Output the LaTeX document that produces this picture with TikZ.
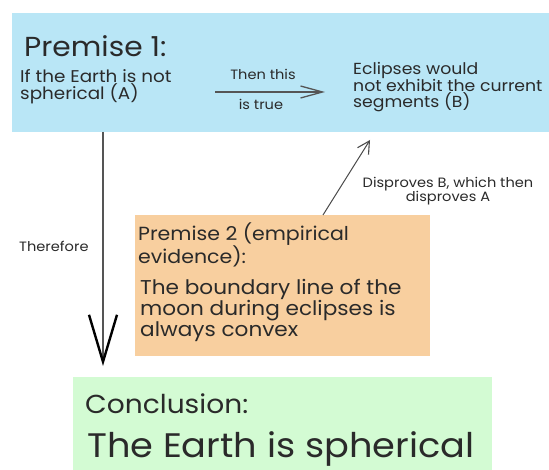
\documentclass[tikz,border=0pt]{standalone}
\usepackage{fontspec}
\setmainfont[FakeStretch=1.08]{Poppins}
\usetikzlibrary{arrows.meta}
\definecolor{boxblue}{HTML}{B9E6F6}
\definecolor{boxorange}{HTML}{F8CF9F}
\definecolor{boxgreen}{HTML}{D3FBD3}
\definecolor{ink}{HTML}{2A2A2A}
\begin{document}
\begin{tikzpicture}[x=1pt,y=-1pt,
  txt/.style={inner sep=0pt,anchor=base west,text=ink,align=left},
  ctxt/.style={inner sep=0pt,anchor=base,text=ink,align=center},
  fs/.style n args={2}{font=\fontsize{#1}{#2}\selectfont}]
\useasboundingbox (0,0) rectangle (549,470);
% boxes
\fill[boxblue] (12,13) rectangle (549,132);
\fill[boxorange] (135,215) rectangle (430,356);
\fill[boxgreen] (73,377) rectangle (492,470);
% texts (multi-line nodes anchored at the baseline of their last line)
\node[txt,fs={27.5}{30}] (prem1) at (24,57) {Premise 1:};
\node[txt,fs={17}{17}] (a) at (20,100) {If the Earth is not\\spherical (A)};
\node[txt,fs={16}{16.5}] (b) at (353,108) {Eclipses would\\not exhibit the current\\segments (B)};
\node[ctxt,fs={13.5}{14}] (then) at (263,80) {Then this};
\node[ctxt,fs={13.5}{14}] (istrue) at (261,110) {is true};
\node[ctxt,fs={13.5}{13}] (dis) at (448,202) {Disproves B, which then\\disproves A};
\node[txt,fs={13.5}{14}] (there) at (19,252) {Therefore};
\node[txt,fs={19}{19}] (prem2) at (138,264) {Premise 2 (empirical\\evidence):};
\node[txt,fs={20}{19.5}] (bound) at (140,337) {The boundary line of the\\moon during eclipses is\\always convex};
\node[txt,fs={26}{28}] (concl) at (85,413) {Conclusion:};
\node[txt,fs={34}{36}] (earth) at (87,457) {The Earth is spherical};
% arrows
\coordinate (h1) at (215,92);
\coordinate (h2) at (325,92);
\draw[ink!80,line width=1.3pt,-{Straight Barb[length=22pt,width=12pt,line width=1.3pt]}] (h1) -- (h2);
\coordinate (v1) at (103,132);
\coordinate (v2) at (103,366);
\draw[ink!80,line width=1.6pt,-{Straight Barb[length=47pt,width=28pt,line width=2.4pt,black]}] (v1) -- (v2);
\coordinate (d1) at (323,215);
\coordinate (d2) at (370,140);
\draw[ink!85,line width=1pt,-{Straight Barb[length=12pt,width=13pt,line width=1.1pt]}] (d1) -- (d2);
\end{tikzpicture}
\end{document}
